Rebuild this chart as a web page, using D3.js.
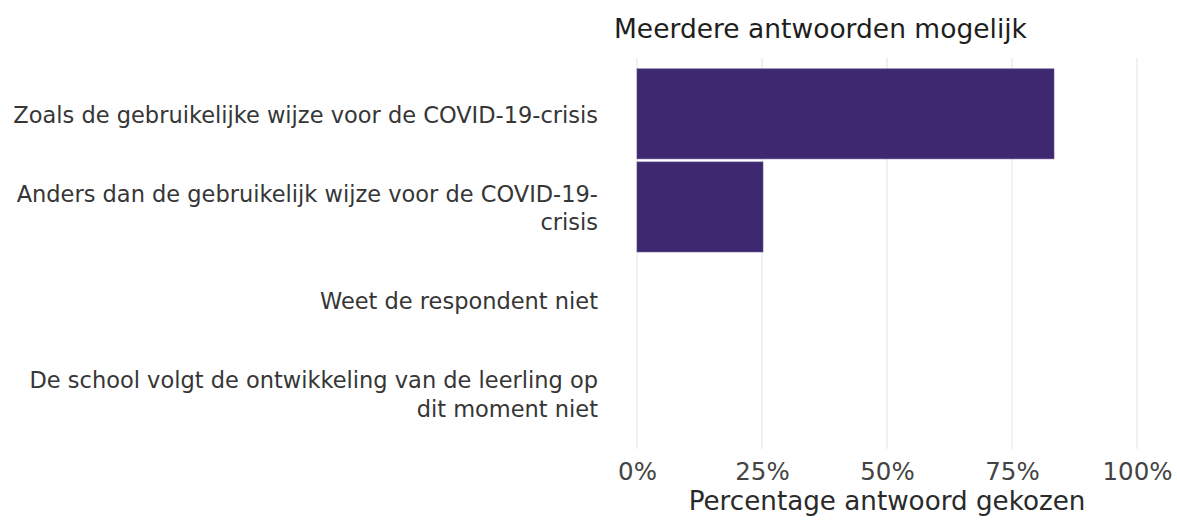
<!DOCTYPE html>
<html>
<head>
<meta charset="utf-8">
<script src="https://cdn.jsdelivr.net/npm/d3@7"></script>
<style>
  body { margin: 0; background: #fff; }
  svg { font-family: "DejaVu Sans", Verdana, sans-serif; }
</style>
</head>
<body>
<div id="chart"></div>
<script>
// answer categories (\n marks the line break used in the picture)
const categories = [
  "Zoals de gebruikelijke wijze voor de COVID-19-crisis",
  "Anders dan de gebruikelijk wijze voor de COVID-19-\ncrisis",
  "Weet de respondent niet",
  "De school volgt de ontwikkeling van de leerling op\ndit moment niet",
];
// percentage of respondents that chose each answer
const percentages = [83.4, 25.2, 0, 0];
const xTicks = [0, 25, 50, 75, 100];
const chartTitle = "Meerdere antwoorden mogelijk";
const xAxisTitle = "Percentage antwoord gekozen";

const fontFamily = '"DejaVu Sans", Verdana, sans-serif';

// panel sits on the right, labels take the left half
const margin = { top: 58, right: 15, bottom: 71, left: 612 };
const width = 1177 - margin.left - margin.right;
const height = 520 - margin.top - margin.bottom;

const svg = d3
  .select("#chart")
  .append("svg")
  .attr("width", width + margin.left + margin.right)
  .attr("height", height + margin.top + margin.bottom);

const g = svg.append("g").attr("transform", `translate(${margin.left},${margin.top})`);

// x scale with ggplot-like 5% expansion on both sides
const xScale = d3.scaleLinear().domain([-5, 105]).range([0, width]);

// discrete y with 0.6 step padding at the ends
const yScale = d3.scalePoint().domain(categories).range([0, height]).padding(0.6);
const barHeight = yScale.step() * 0.967;

// vertical gridlines
g.selectAll(".grid")
  .data(xTicks)
  .enter()
  .append("line")
  .attr("class", "grid")
  .attr("x1", (d) => xScale(d))
  .attr("x2", (d) => xScale(d))
  .attr("y1", 0)
  .attr("y2", height)
  .attr("stroke", "#e2e2e2")
  .attr("stroke-width", 1);

// bars
g.selectAll(".bar")
  .data(categories)
  .enter()
  .append("rect")
  .attr("class", "bar")
  .attr("x", xScale(0))
  .attr("y", (d) => yScale(d) - barHeight / 2)
  .attr("width", (d, i) => xScale(percentages[i]) - xScale(0))
  .attr("height", barHeight)
  .attr("fill", "#3e2971")
  .attr("stroke", (d, i) => (percentages[i] > 0 ? "#5a4a8a" : "none"))
  .attr("stroke-width", 0.6);

// x axis, no line and no ticks
const xAxis = g
  .append("g")
  .attr("transform", `translate(0,${height})`)
  .call(d3.axisBottom(xScale).tickValues(xTicks).tickSize(0).tickFormat((d) => d + "%"))
  .attr("font-family", fontFamily);
xAxis.select(".domain").remove();
xAxis
  .selectAll("text")
  .attr("y", 14)
  .attr("fill", "#444")
  .style("font-size", "24.5px");

// y axis with wrapped labels
const yAxis = g
  .append("g")
  .call(d3.axisLeft(yScale).tickSize(0).tickPadding(14))
  .attr("font-family", fontFamily);
yAxis.select(".domain").remove();
yAxis.selectAll("text").each(function (d) {
  const lines = d.split("\n");
  const t = d3.select(this).text(null).attr("fill", "#363636").style("font-size", "22.5px").attr("dy", null);
  const lineH = 29;
  lines.forEach((line, i) => {
    t.append("tspan")
      .attr("x", -14)
      .attr("y", (i - (lines.length - 1) / 2) * lineH)
      .attr("dy", "0.38em")
      .text(line);
  });
});

// title above the panel
svg.append("text")
  .attr("x", margin.left + 2)
  .attr("y", 38)
  .attr("fill", "#1e1e1e")
  .style("font-size", "26.5px")
  .text(chartTitle);

// x axis title
svg.append("text")
  .attr("x", margin.left + width / 2)
  .attr("y", 510)
  .attr("text-anchor", "middle")
  .attr("fill", "#2a2a2a")
  .style("font-size", "26.2px")
  .text(xAxisTitle);
</script>
</body>
</html>
